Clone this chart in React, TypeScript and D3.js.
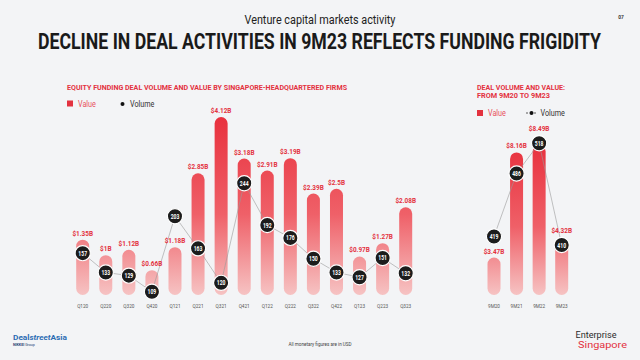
import React from "react";
import * as d3 from "d3";

const quarters = ["Q120","Q220","Q320","Q420","Q121","Q221","Q321","Q421","Q122","Q222","Q322","Q422","Q123","Q223","Q323"];
const qValue = [1.35,1.0,1.12,0.66,1.18,2.85,4.12,3.18,2.91,3.19,2.39,2.5,0.97,1.27,2.08];
const qValueLabel = ["$1.35B","$1B","$1.12B","$0.66B","$1.18B","$2.85B","$4.12B","$3.18B","$2.91B","$3.19B","$2.39B","$2.5B","$0.97B","$1.27B","$2.08B"];
const qVolume = [157,133,129,109,203,163,120,244,192,176,150,133,127,151,132];

const periods = ["9M20","9M21","9M22","9M23"];
const pValue = [3.47,8.16,8.49,4.32];
const pValueLabel = ["$3.47B","$8.16B","$8.49B","$4.32B"];
const pVolume = [419,486,518,410];

const RED = "#e3323f";
const W = 640, H = 360;
const BASE = 295;

function CT({ x, y, sx = 0.8, children, ...rest }: any) {
  return (
    <text transform={`translate(${x},${y}) scale(${sx},1)`} {...rest}>
      {children}
    </text>
  );
}

function VolumeDot({ x, y, v }: { x: number; y: number; v: number }) {
  return (
    <g>
      <circle cx={x} cy={y} r={7.6} fill="#1c1c1c" stroke="#ffffff" strokeWidth={1.2} />
      <CT x={x} y={y + 2.5} sx={0.72} textAnchor="middle" fill="#fff" fontSize={7} fontWeight={700} fontFamily="Roboto">
        {v}
      </CT>
    </g>
  );
}

export default function App() {
  const xq = d3.scalePoint<string>().domain(quarters).range([82.7, 405.7]);
  const yq = d3.scaleLinear().domain([0.1, 4.12]).range([BASE, 117]);
  const vq = d3.scaleLinear().domain([109, 244]).range([291.7, 183.3]);

  const xp = d3.scalePoint<string>().domain(periods).range([494, 561.7]);
  const yp = d3.scaleLinear().domain([1.8, 8.49]).range([BASE, 145]);
  const vp = d3.scaleLinear().domain([410, 518]).range([245, 143.3]);

  const bw = 13;
  const lineQ = d3.line<number>().x((_, i) => xq(quarters[i])!).y((d) => vq(d));
  const lineP = d3.line<number>().x((_, i) => xp(periods[i])!).y((d) => vp(d));

  const labelY = (barTop: number, cy: number) => {
    const overlaps = cy - 8 < barTop + 2 && cy + 8 > barTop - 11;
    return (overlaps ? Math.min(barTop, cy - 8) : barTop) - 4;
  };

  return (
    <div style={{ position: "fixed", left: 0, top: 0, width: W, height: H }}>
      <svg width={W} height={H} viewBox={`0 0 ${W} ${H}`} style={{ display: "block" }}>
        <defs>
          <linearGradient id="gq" gradientUnits="userSpaceOnUse" x1={0} y1={115} x2={0} y2={BASE}>
            <stop offset="0" stopColor="#e8303d" />
            <stop offset="0.55" stopColor="#ef6068" />
            <stop offset="1" stopColor="#f6c3c3" />
          </linearGradient>
          <linearGradient id="gp" gradientUnits="userSpaceOnUse" x1={0} y1={143} x2={0} y2={BASE}>
            <stop offset="0" stopColor="#e8303d" />
            <stop offset="0.55" stopColor="#ef6068" />
            <stop offset="1" stopColor="#f6c3c3" />
          </linearGradient>
        </defs>
        <rect x={0} y={0} width={W} height={H} fill="#f3f4f6" />

        <text x={320} y={24} textAnchor="middle" fontFamily="Roboto" fontSize={12} fill="#222" textLength={151} lengthAdjust="spacingAndGlyphs">
          Venture capital markets activity
        </text>
        <CT x={621} y={19} sx={0.8} textAnchor="middle" fontFamily="Roboto" fontSize={6} fontWeight={700} fill="#333">07</CT>
        <CT x={38} y={49} sx={0.72} fontFamily="Roboto" fontSize={22} fontWeight={700} fill="#1a1a1a" textLength={782} lengthAdjust="spacingAndGlyphs">
          DECLINE IN DEAL ACTIVITIES IN 9M23 REFLECTS FUNDING FRIGIDITY
        </CT>

        <text x={67} y={89.5} fontFamily="Roboto" fontSize={7.5} fontWeight={700} fill={RED} textLength={280} lengthAdjust="spacingAndGlyphs">
          EQUITY FUNDING DEAL VOLUME AND VALUE BY SINGAPORE-HEADQUARTERED FIRMS
        </text>
        <rect x={67} y={100.5} width={6} height={6} fill={RED} />
        <CT x={78} y={106.8} sx={0.85} fontFamily="Roboto" fontSize={8.5} fill="#e8505c">Value</CT>
        <circle cx={122.5} cy={104} r={2} fill="#111" />
        <CT x={130} y={106.8} sx={0.85} fontFamily="Roboto" fontSize={8.5} fill="#333">Volume</CT>

        <text x={477} y={89.5} fontFamily="Roboto" fontSize={7.5} fontWeight={700} fill={RED} textLength={88} lengthAdjust="spacingAndGlyphs">
          DEAL VOLUME AND VALUE:
        </text>
        <text x={477} y={98} fontFamily="Roboto" fontSize={7.5} fontWeight={700} fill={RED} textLength={73} lengthAdjust="spacingAndGlyphs">
          FROM 9M20 TO 9M23
        </text>
        <rect x={477} y={110} width={6} height={6} fill={RED} />
        <CT x={488} y={116.3} sx={0.85} fontFamily="Roboto" fontSize={8.5} fill="#e8505c">Value</CT>
        <line x1={526} x2={537} y1={113} y2={113} stroke="#333" strokeWidth={0.8} strokeDasharray="2,2" />
        <circle cx={531.5} cy={113} r={2} fill="#111" />
        <CT x={540.5} y={116.3} sx={0.85} fontFamily="Roboto" fontSize={8.5} fill="#333">Volume</CT>

        {quarters.map((q, i) => {
          const x = xq(q)!;
          const top = yq(qValue[i]);
          return <rect key={q} x={x - bw / 2} y={top} width={bw} height={BASE - top} rx={bw / 2} fill="url(#gq)" />;
        })}
        <path d={lineQ(qVolume) || ""} fill="none" stroke="#9a9a9a" strokeWidth={0.6} />
        {quarters.map((q, i) => {
          const x = xq(q)!;
          const top = yq(qValue[i]);
          return (
            <CT key={q + "l"} x={x} y={labelY(top, vq(qVolume[i]))} sx={0.8} textAnchor="middle" fontFamily="Roboto" fontSize={8} fontWeight={700} fill={RED}>
              {qValueLabel[i]}
            </CT>
          );
        })}
        {quarters.map((q, i) => (
          <VolumeDot key={q + "v"} x={xq(q)!} y={vq(qVolume[i])} v={qVolume[i]} />
        ))}
        {quarters.map((q) => (
          <CT key={q + "a"} x={xq(q)!} y={308} sx={0.85} textAnchor="middle" fontFamily="Roboto" fontSize={5.5} fill="#555">
            {q}
          </CT>
        ))}

        {periods.map((p, i) => {
          const x = xp(p)!;
          const top = yp(pValue[i]);
          return <rect key={p} x={x - bw / 2} y={top} width={bw} height={BASE - top} rx={bw / 2} fill="url(#gp)" />;
        })}
        <path d={lineP(pVolume) || ""} fill="none" stroke="#9a9a9a" strokeWidth={0.6} />
        {periods.map((p, i) => {
          const x = xp(p)!;
          const top = yp(pValue[i]);
          return (
            <CT key={p + "l"} x={x} y={labelY(top, vp(pVolume[i]))} sx={0.8} textAnchor="middle" fontFamily="Roboto" fontSize={8} fontWeight={700} fill={RED}>
              {pValueLabel[i]}
            </CT>
          );
        })}
        {periods.map((p, i) => (
          <VolumeDot key={p + "v"} x={xp(p)!} y={vp(pVolume[i])} v={pVolume[i]} />
        ))}
        {periods.map((p) => (
          <CT key={p + "a"} x={xp(p)!} y={308} sx={0.85} textAnchor="middle" fontFamily="Roboto" fontSize={5.5} fill="#555">
            {p}
          </CT>
        ))}

        <text x={13} y={340} fontFamily="Roboto" fontSize={8} fontWeight={700} fill="#2b6cb3" textLength={54} lengthAdjust="spacingAndGlyphs">
          Deal<tspan fontStyle="italic">street</tspan>Asia
        </text>
        <text x={13} y={345.5} fontFamily="Roboto" fontSize={3.6} fill="#1f3b73" fontWeight={700}>
          NIKKEI <tspan fontWeight={400}>Group</tspan>
        </text>
        <text x={320} y={346} textAnchor="middle" fontFamily="Roboto" fontSize={4.6} fill="#444">
          All monetary figures are in USD
        </text>
        <text x={575.5} y={338} fontFamily="Roboto" fontSize={9} fill="#2b2b2b" textLength={41} lengthAdjust="spacingAndGlyphs">
          Enterprise
        </text>
        <text x={578} y={347.5} fontFamily="Roboto" fontSize={9} fill="#e3323f" textLength={49} lengthAdjust="spacingAndGlyphs">
          Singapore
        </text>
      </svg>
    </div>
  );
}
